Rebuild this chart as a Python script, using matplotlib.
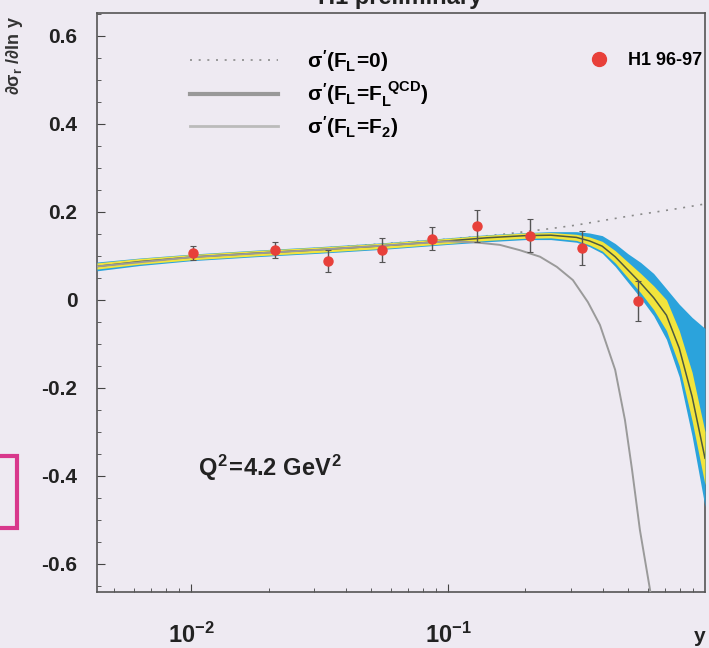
import matplotlib
matplotlib.use("Agg")
import matplotlib.pyplot as plt
from matplotlib.lines import Line2D
from matplotlib.patches import Rectangle
from matplotlib.ticker import LogLocator, MultipleLocator, NullFormatter

plt.rcParams['font.family'] = ['Liberation Sans', 'DejaVu Sans']
plt.rcParams['font.weight'] = 'bold'
plt.rcParams['mathtext.fontset'] = 'custom'
plt.rcParams['mathtext.rm'] = 'Liberation Sans:bold'
plt.rcParams['mathtext.it'] = 'Liberation Sans:bold'
plt.rcParams['mathtext.bf'] = 'Liberation Sans:bold'
plt.rcParams['mathtext.sf'] = 'Liberation Sans:bold'

# ---- data ----
data_y_x = [0.0102, 0.0212, 0.0341, 0.0553, 0.0867, 0.130, 0.208, 0.332, 0.548]
data_val = [0.107, 0.114, 0.089, 0.114, 0.139, 0.168, 0.146, 0.118, -0.003]
data_err = [0.016, 0.018, 0.025, 0.027, 0.026, 0.037, 0.037, 0.039, 0.045]

band_x = [0.0043, 0.0063, 0.01, 0.0178, 0.0316, 0.0562, 0.1, 0.141, 0.2, 0.251,
          0.316, 0.355, 0.398, 0.447, 0.501, 0.562, 0.631, 0.708, 0.794, 0.891, 1.0]
qcd_central = [0.076, 0.087, 0.097, 0.106, 0.114, 0.123, 0.134, 0.141, 0.146, 0.147,
               0.142, 0.134, 0.122, 0.098, 0.068, 0.038, 0.005, -0.035, -0.11, -0.22, -0.36]
yellow_up = [0.084, 0.094, 0.103, 0.112, 0.120, 0.129, 0.140, 0.147, 0.152, 0.153,
             0.149, 0.143, 0.133, 0.112, 0.086, 0.06, 0.032, 0.0, -0.07, -0.165, -0.30]
yellow_lo = [0.070, 0.081, 0.091, 0.100, 0.108, 0.117, 0.128, 0.135, 0.140, 0.141,
             0.135, 0.125, 0.111, 0.084, 0.05, 0.016, -0.022, -0.07, -0.15, -0.275, -0.42]
blue_up = [0.086, 0.095, 0.104, 0.113, 0.121, 0.130, 0.141, 0.148, 0.153, 0.155,
           0.155, 0.152, 0.146, 0.128, 0.105, 0.085, 0.06, 0.025, -0.01, -0.04, -0.065]
blue_lo = [0.066, 0.078, 0.089, 0.098, 0.106, 0.115, 0.126, 0.132, 0.137, 0.137,
           0.131, 0.121, 0.106, 0.076, 0.04, 0.004, -0.036, -0.09, -0.175, -0.31, -0.47]

f2_x = [0.0043, 0.01, 0.0316, 0.1, 0.126, 0.159, 0.19, 0.228, 0.265, 0.306, 0.35,
        0.39, 0.447, 0.488, 0.52, 0.558, 0.611, 0.63]
f2_y = [0.076, 0.097, 0.114, 0.133, 0.131, 0.125, 0.113, 0.098, 0.075, 0.045, -0.005,
        -0.057, -0.159, -0.273, -0.386, -0.523, -0.659, -0.72]

fl0_x = [0.0043, 0.01, 0.0316, 0.1, 0.158, 0.251, 0.316, 0.398, 0.501, 0.631, 0.794, 1.0]
fl0_y = [0.079, 0.099, 0.117, 0.138, 0.148, 0.162, 0.17, 0.18, 0.19, 0.199, 0.208, 0.218]

y_ticks = [-0.6, -0.4, -0.2, 0, 0.2, 0.4, 0.6]
y_ticklabels = ['-0.6', '-0.4', '-0.2', '0', '0.2', '0.4', '0.6']
x_ticks = [0.01, 0.1]

legend_labels = [r'$\sigma^{\prime}(F_L\!=\!0)$',
                 r'$\sigma^{\prime}(F_L\!=\!F_L^{\ QCD})$',
                 r'$\sigma^{\prime}(F_L\!=\!F_2)$']
data_label = 'H1 96-97'

# ---- figure ----
bg = '#EEEAF2'
fig = plt.figure(figsize=(7.09, 6.48), dpi=100, facecolor=bg)
ax = fig.add_axes([97/709, 1-592/648, (705-97)/709, (592-13)/648])
ax.set_facecolor(bg)

ax.plot(fl0_x, fl0_y, color='#8a8a8a', lw=1.2, ls=(0, (1.2, 4)), zorder=2)
ax.fill_between(band_x, blue_lo, blue_up, color='#2BA3DC', lw=0, zorder=3)
ax.fill_between(band_x, yellow_lo, yellow_up, color='#F2E43C', lw=0, zorder=4)
ax.plot(band_x, qcd_central, color='#4d5a40', lw=1.1, zorder=5)
ax.plot(f2_x, f2_y, color='#9a9a9a', lw=1.4, zorder=5)

ax.errorbar(data_y_x, data_val, yerr=data_err, fmt='o', color='#E8403A',
            ms=6.5, mec='#E8403A', ecolor='#555555', elinewidth=1.0,
            capsize=2, capthick=0.8, zorder=6)

ax.set_xscale('log')
ax.set_xlim(0.0043, 1.0)
ax.set_ylim(-0.664, 0.652)
ax.set_xticks(x_ticks)
ax.xaxis.set_minor_locator(LogLocator(base=10, subs=range(2, 10)))
ax.xaxis.set_minor_formatter(NullFormatter())
ax.set_yticks(y_ticks)
ax.set_yticklabels(y_ticklabels)
ax.yaxis.set_minor_locator(MultipleLocator(0.05))
ax.tick_params(which='both', direction='in', top=False, right=False, colors='#444444')
ax.tick_params(which='major', length=6, width=0.8, labelsize=15, labelcolor='#222222')
ax.tick_params(which='minor', length=3, width=0.6)
ax.tick_params(axis='x', which='major', pad=22, labelsize=17)
ax.tick_params(axis='y', which='major', pad=14)
for s in ax.spines.values():
    s.set_color('#555555')
    s.set_linewidth(1.2)

# legends
h_lines = [Line2D([], [], color='#8a8a8a', lw=1.2, ls=(0, (1.2, 4))),
           Line2D([], [], color='#999999', lw=3.0),
           Line2D([], [], color='#bbbbbb', lw=2.0)]
leg1 = ax.legend(h_lines, legend_labels, loc='upper left',
                 bbox_to_anchor=((190-97)/608, 1-(48-13)/579), frameon=False,
                 fontsize=15, handlelength=4.2, handletextpad=1.4,
                 labelspacing=0.25, borderpad=0, borderaxespad=0)
ax.add_artist(leg1)
h_pt = [Line2D([], [], ls='none', marker='o', ms=10, color='#E8403A')]
ax.legend(h_pt, [data_label], loc='upper left',
          bbox_to_anchor=((588-97)/608, 1-(52-13)/579), frameon=False,
          fontsize=13, handlelength=1.2, handletextpad=1.0, borderpad=0,
          borderaxespad=0)

ax.text((198-97)/608, 1-(468-13)/579, r'$Q^2\!=\!4.2\ GeV^2$', transform=ax.transAxes,
        fontsize=17, va='center', ha='left', color='#222222')

fig.text(15/709, 1-55/648, r'$\partial\sigma_r\ /\partial\mathrm{ln}\ y$', rotation=90,
         fontsize=13, ha='center', va='center', color='#333333')
fig.text(700/709, 1-637/648, 'y', fontsize=15, ha='center', va='center',
         color='#222222', fontweight='bold')
fig.text(400/709, 1-4/648, 'H1 preliminary', fontsize=17, ha='center', va='baseline',
         color='#222222', fontweight='bold')

fig.patches.append(Rectangle((-10/709, 1-528/648), 27/709, 72/648, transform=fig.transFigure,
                             fill=False, edgecolor='#D8388C', lw=3))

fig.savefig('out.png', dpi=100, facecolor=bg)
